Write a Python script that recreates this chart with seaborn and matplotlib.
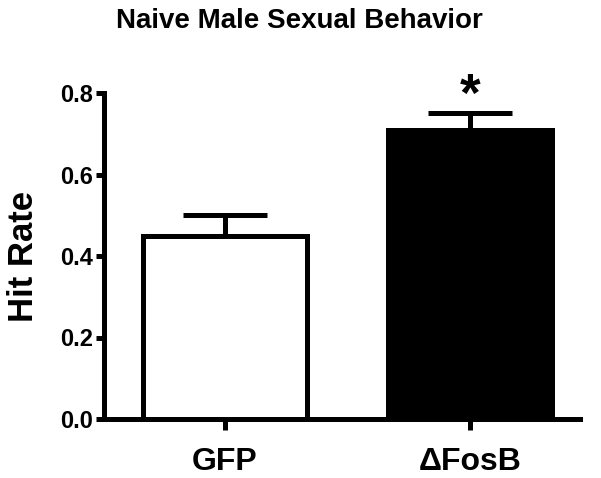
import pandas as pd
import seaborn as sns
import matplotlib.pyplot as plt

groups = ['GFP', '\u0394FosB']
hit_rate = [0.45, 0.71]
sem = [0.05, 0.04]
bar_colors = ['white', 'black']

sns.set_style('ticks')
plt.rcParams['font.family'] = ['Liberation Sans', 'DejaVu Sans']
plt.rcParams['font.weight'] = 'bold'
plt.rcParams['text.color'] = 'black'
plt.rcParams['axes.labelcolor'] = 'black'
plt.rcParams['axes.edgecolor'] = 'black'
plt.rcParams['xtick.color'] = 'black'
plt.rcParams['ytick.color'] = 'black'

data = pd.DataFrame({'Group': groups, 'Hit Rate': hit_rate})

fig = plt.figure(figsize=(6.01, 4.78), dpi=100)
ax = fig.add_axes([104 / 601, 1 - 419 / 478, (580 - 104) / 601, (419 - 93) / 478])

sns.barplot(x='Group', y='Hit Rate', data=data, hue='Group', palette=bar_colors,
            order=groups, width=0.67, edgecolor='black', linewidth=3.6,
            legend=False, ax=ax, zorder=2)

# one-sided error bars (upper only)
ax.errorbar(range(len(groups)), hit_rate, yerr=[[0, 0], sem], fmt='none',
            ecolor='black', elinewidth=3.6, capsize=30, capthick=3.6, zorder=1)

# significance marker
ax.text(1, 0.79, '*', ha='center', va='center', fontsize=38, fontweight='bold',
        color='black', clip_on=False)

ax.set_xlim(-0.494, 1.45)
ax.set_ylim(0, 0.8)
ax.set_yticks([0.0, 0.2, 0.4, 0.6, 0.8])
ax.set_yticklabels(['0.0', '0.2', '0.4', '0.6', '0.8'])
ax.set_xlabel('')
ax.set_ylabel('Hit Rate', fontsize=25, fontweight='bold', labelpad=14, color='black')
ax.set_title('Naive Male Sexual Behavior', fontsize=20, fontweight='bold', pad=47,
             x=0.41, color='black')

for s in ['top', 'right']:
    ax.spines[s].set_visible(False)
for s in ['left', 'bottom']:
    ax.spines[s].set_linewidth(3.6)
    ax.spines[s].set_color('black')
    ax.spines[s].set_capstyle('projecting')

ax.tick_params(axis='y', width=3.6, length=6, labelsize=17, pad=2, colors='black')
ax.tick_params(axis='x', width=3.6, length=8, labelsize=23, pad=12, colors='black')
for lbl in ax.get_xticklabels() + ax.get_yticklabels():
    lbl.set_fontweight('bold')

fig.savefig('out.png', dpi=100)
